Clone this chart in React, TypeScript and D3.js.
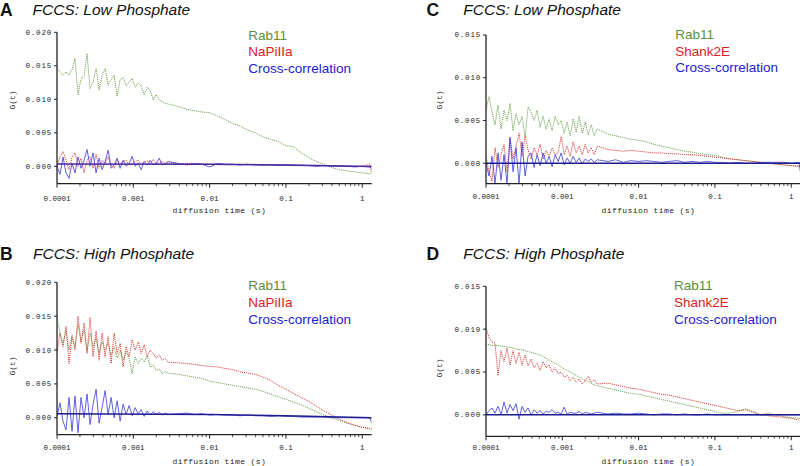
import React from "react";
import * as d3 from "d3";

// diffusion time grid (s)
const TIME = [
  1.0e-4, 1.095e-4, 1.199e-4, 1.313e-4, 1.437e-4, 1.574e-4, 1.723e-4, 1.887e-4, 2.066e-4, 2.262e-4,
  2.477e-4, 2.712e-4, 2.97e-4, 3.252e-4, 3.561e-4, 3.899e-4, 4.269e-4, 4.674e-4, 5.118e-4, 5.604e-4,
  6.136e-4, 6.719e-4, 7.357e-4, 8.056e-4, 8.821e-4, 9.658e-4, 1.058e-3, 1.158e-3, 1.268e-3, 1.388e-3,
  1.52e-3, 1.665e-3, 1.823e-3, 1.996e-3, 2.185e-3, 2.393e-3, 2.62e-3, 2.869e-3,
  3.98e-3, 5.01e-3, 6.31e-3, 7.94e-3, 0.01, 0.0126, 0.0158, 0.02, 0.0251, 0.0316,
  0.0398, 0.0501, 0.0631, 0.0794, 0.1, 0.126, 0.158, 0.2, 0.251, 0.316,
  0.398, 0.501, 0.631, 0.794, 1.0, 1.26, 1.33,
];

const A_RAB11 = [
  0.0146, 0.0141, 0.0136, 0.0141, 0.0136, 0.0144, 0.0161, 0.0107, 0.0131, 0.0134,
  0.0168, 0.0116, 0.0126, 0.0146, 0.0114, 0.0136, 0.0146, 0.0121, 0.0129, 0.0136,
  0.0104, 0.0129, 0.0133, 0.012, 0.0126, 0.0131, 0.0118, 0.0124, 0.012, 0.0107,
  0.0118, 0.0113, 0.0099, 0.0107, 0.0099, 0.0097, 0.0094, 0.0093,
  0.0089, 0.0085, 0.0083, 0.0081, 0.008, 0.0075, 0.007, 0.0064, 0.006, 0.0054,
  0.005, 0.0044, 0.004, 0.0037, 0.0031, 0.0029, 0.002, 0.0013, 0.0007, 0.0003,
  -0.0002, -0.0005, -0.0007, -0.0008, -0.001, -0.0011, -0.001,
];
const A_NAPI = [
  0.0, 0.0014, 0.0022, 0.0009, -0.0005, 0.0014, 0.002, 0.0, 0.0012, -0.001,
  0.0009, 0.0014, -0.0003, 0.0018, -0.0003, 0.0009, 0.0004, 0.0014, 0.0002, -0.0003,
  0.0009, 0.0004, 0.0007, 0.0009, 0.0002, 0.0004, 0.0007, 0.0009, 0.0003, 0.0007,
  0.0008, 0.0004, 0.001, 0.0004, 0.0005, 0.0007, 0.0004, 0.0005,
  0.0004, 0.0004, 0.0004, 0.0004, 0.0003, 0.0004, 0.0003, 0.0003, 0.0003, 0.0003,
  0.0003, 0.0002, 0.0002, 0.0002, 0.0002, 0.0002, 0.0002, 0.0001, 0.0001, 0.0001,
  0.0001, 0.0001, 0.0, 0.0, 0.0, 0.0003, -0.001,
];
const A_CROSS = [
  0.0, -0.0012, 0.0014, -0.001, -0.0018, 0.0004, -0.001, 0.0014, -0.0003, 0.0009,
  0.0025, 0.0, 0.002, -0.001, 0.0012, -0.0005, 0.0007, 0.0024, -0.0003, 0.0002,
  0.0012, -0.0003, 0.0009, 0.0, 0.0004, 0.0015, 0.0, 0.0005, -0.0005, 0.0007,
  0.0002, 0.0009, 0.0002, 0.0004, 0.0012, 0.0002, 0.0004, 0.0007,
  0.0004, 0.0002, 0.0004, 0.0003, -0.0001, 0.0004, 0.0003, 0.0003, 0.0002, 0.0003,
  0.0002, 0.0002, 0.0002, 0.0001, 0.0002, 0.0001, 0.0001, 0.0001, 0.0, 0.0001,
  0.0, 0.0, 0.0, -0.0001, 0.0, -0.0001, -0.0004,
];

const B_RAB11 = [
  0.0149, 0.0125, 0.011, 0.0128, 0.01, 0.0122, 0.0105, 0.0138, 0.0112, 0.013,
  0.0098, 0.0125, 0.0105, 0.0118, 0.0095, 0.0112, 0.01, 0.011, 0.0092, 0.0105,
  0.0088, 0.01, 0.0085, 0.0098, 0.0088, 0.0065, 0.009, 0.008, 0.0088, 0.0082,
  0.0092, 0.0075, 0.0078, 0.007, 0.0072, 0.0065, 0.0068, 0.0066,
  0.0064, 0.0062, 0.006, 0.0058, 0.0054, 0.0052, 0.005, 0.0048, 0.0046, 0.0044,
  0.0042, 0.0039, 0.0035, 0.0031, 0.0027, 0.0023, 0.0019, 0.0014, 0.0009, 0.0004,
  0.0, -0.0004, -0.0008, -0.0011, -0.0014, -0.0016, -0.0017,
];
const B_NAPI = [
  0.0095, 0.0125, 0.0105, 0.0135, 0.008, 0.012, 0.01, 0.015, 0.011, 0.014,
  0.0095, 0.0148, 0.009, 0.0128, 0.0085, 0.0125, 0.009, 0.012, 0.008, 0.0125,
  0.0095, 0.011, 0.0075, 0.0105, 0.009, 0.0115, 0.01, 0.0112, 0.0095, 0.0108,
  0.009, 0.01, 0.0095, 0.0088, 0.0093, 0.0085, 0.0088, 0.0082,
  0.0081, 0.008, 0.0079, 0.0077, 0.0076, 0.0075, 0.0073, 0.0071, 0.0068, 0.0066,
  0.0064, 0.006, 0.0055, 0.0048, 0.0042, 0.0036, 0.003, 0.0024, 0.0017, 0.001,
  0.0004, -0.0002, -0.0007, -0.0011, -0.0014, -0.0016, -0.0017,
];
const B_CROSS = [
  0.0002, 0.0022, -0.0005, -0.0018, 0.003, -0.002, 0.0032, -0.0022, 0.003, 0.0,
  0.0035, -0.001, 0.002, 0.0042, -0.0008, 0.0015, 0.004, 0.0005, 0.003, 0.0,
  0.0025, -0.0005, 0.002, 0.0005, 0.0018, 0.0003, 0.0015, 0.0006, 0.0012, 0.0002,
  0.001, 0.0004, 0.0009, 0.0005, 0.0008, 0.0004, 0.0007, 0.0005,
  0.0006, 0.0007, 0.0005, 0.0006, 0.0004, 0.0005, 0.0004, 0.0004, 0.0003, 0.0004,
  0.0003, 0.0003, 0.0002, 0.0003, 0.0002, 0.0002, 0.0001, 0.0001, 0.0001, 0.0001,
  0.0, 0.0, 0.0, 0.0, 0.0, 0.0, -0.0008,
];

const C_RAB11 = [
  0.0062, 0.0078, 0.006, 0.0045, 0.0068, 0.004, 0.0062, 0.005, 0.007, 0.0038,
  0.0058, 0.0045, 0.0055, 0.003, 0.0066, 0.006, 0.005, 0.0062, 0.0042, 0.0055,
  0.004, 0.0052, 0.0038, 0.0055, 0.0045, 0.005, 0.0035, 0.0048, 0.0032, 0.0052,
  0.0036, 0.0055, 0.0035, 0.0048, 0.0033, 0.0045, 0.0032, 0.004,
  0.0034, 0.0032, 0.003, 0.0028, 0.0027, 0.0025, 0.0022, 0.002, 0.0018, 0.0016,
  0.0014, 0.0013, 0.0011, 0.001, 0.0009, 0.0007, 0.0005, 0.0004, 0.0003, 0.0002,
  0.0001, 0.0, -0.0001, -0.0002, -0.0003, -0.0003, -0.0002,
];
const C_SHANK = [
  0.0008, -0.001, -0.0021, 0.0018, -0.0005, 0.001, 0.0022, -0.001, 0.003, 0.0005,
  0.002, 0.0035, 0.0008, 0.0032, 0.0015, 0.0005, 0.0018, 0.001, 0.0022, 0.0005,
  0.0015, 0.0008, 0.0018, 0.001, 0.0012, 0.0031, 0.001, 0.002, 0.0008, 0.0025,
  0.0012, 0.002, 0.001, 0.0022, 0.0012, 0.0018, 0.001, 0.002,
  0.0016, 0.0015, 0.0014, 0.0015, 0.0014, 0.0013, 0.0012, 0.0012, 0.0011, 0.0011,
  0.001, 0.001, 0.0009, 0.0008, 0.0007, 0.0006, 0.0005, 0.0004, 0.0003, 0.0002,
  0.0001, 0.0, -0.0001, -0.0002, -0.0003, -0.0004, -0.0005,
];
const C_CROSS = [
  0.0, -0.0015, 0.0008, -0.0024, 0.0012, -0.002, 0.001, -0.0024, 0.003, -0.001,
  0.0018, -0.0024, 0.0025, -0.0015, 0.0008, 0.0012, -0.0005, 0.001, -0.0003, 0.0012,
  0.0, 0.0008, -0.0004, 0.001, 0.0002, 0.0012, -0.0002, 0.0006, 0.0, 0.0008,
  0.0001, 0.0006, -0.0001, 0.0005, 0.0002, 0.0005, 0.0001, 0.0004,
  0.0002, 0.0004, 0.0001, 0.0003, 0.0002, 0.0003, 0.0002, 0.0001, 0.0002, 0.0003,
  0.0001, 0.0002, 0.0001, 0.0002, 0.0001, 0.0001, 0.0, 0.0001, 0.0, 0.0,
  0.0001, 0.0001, 0.0001, 0.0001, 0.0, 0.0001, -0.0012,
];

const D_RAB11 = [
  0.0082, 0.0082, 0.0081, 0.0081, 0.0081, 0.008, 0.008, 0.0079, 0.0079, 0.0078,
  0.0077, 0.0076, 0.0076, 0.0075, 0.0074, 0.0073, 0.0072, 0.0071, 0.007, 0.0068,
  0.0066, 0.0064, 0.0062, 0.006, 0.0058, 0.0056, 0.0054, 0.0052, 0.005, 0.0048,
  0.0046, 0.0044, 0.0042, 0.004, 0.0039, 0.0037, 0.0035, 0.0034,
  0.0031, 0.0029, 0.0027, 0.0025, 0.0024, 0.0022, 0.002, 0.0018, 0.0016, 0.0014,
  0.0012, 0.001, 0.0008, 0.0006, 0.0004, 0.0002, 0.0002, 0.0004, 0.0007, 0.0004,
  0.0, 0.0002, 0.0, -0.0002, -0.0003, -0.0004, -0.0004,
];
const D_SHANK = [
  0.0102, 0.009, 0.0085, 0.0084, 0.0046, 0.0075, 0.0062, 0.0078, 0.0058, 0.0075,
  0.006, 0.0073, 0.0058, 0.007, 0.0057, 0.0065, 0.0055, 0.006, 0.0052, 0.0062,
  0.0055, 0.0058, 0.005, 0.0055, 0.0048, 0.005, 0.0044, 0.0046, 0.004, 0.0044,
  0.0038, 0.0042, 0.0036, 0.004, 0.0045, 0.0038, 0.0041, 0.0036,
  0.0037, 0.0035, 0.0033, 0.0031, 0.003, 0.0028, 0.0026, 0.0024, 0.0023, 0.0021,
  0.0019, 0.0017, 0.0015, 0.0013, 0.0011, 0.0009, 0.0007, 0.0005, 0.0006, 0.0003,
  0.0, -0.0001, -0.0002, -0.0003, -0.0004, -0.0006, -0.0007,
];
const D_CROSS = [
  0.0, 0.0005, 0.0008, 0.0002, 0.001, 0.0, 0.0015, 0.0002, 0.0012, 0.0005,
  0.0013, -0.0005, 0.001, 0.0003, 0.0008, 0.0, 0.0006, 0.0002, 0.0005, 0.0001,
  0.0004, 0.0003, 0.0006, 0.0002, 0.0003, 0.0001, 0.0009, 0.0001, 0.0003, 0.0002,
  0.0002, 0.0004, 0.0001, 0.0003, 0.0002, 0.0001, 0.0002, 0.0003,
  0.0001, 0.0002, 0.0001, 0.0001, 0.0002, 0.0001, 0.0, 0.0001, 0.0001, 0.0,
  0.0001, 0.0, 0.0, 0.0001, 0.0, 0.0, 0.0, 0.0, 0.0, 0.0,
  0.0, 0.0, 0.0, 0.0, 0.0, 0.0, 0.0,
];

// cross-correlation baseline fits
const FIT_TIME = [0.0001, 0.01, 0.1, 1.33];
const A_FIT = [0.00035, 0.0003, 0.0002, -0.00005];
const B_FIT = [0.0006, 0.0005, 0.0003, 0.0];
const C_FIT = [0.0, 0.0, 0.0, 0.0];
const D_FIT = [0.0, 0.0, 0.0, 0.0];

const X_DOMAIN = [0.0001, 1.33];
const X_TICKS = [0.0001, 0.001, 0.01, 0.1, 1];
const X_TICK_LABELS = ["0.0001", "0.001", "0.01", "0.1", "1"];
const Y_TICKS_20 = [0, 0.005, 0.01, 0.015, 0.02];
const Y_TICKS_15 = [0, 0.005, 0.01, 0.015];
const LEGEND_NAPI = ["Rab11", "NaPiIIa", "Cross-correlation"];
const LEGEND_SHANK = ["Rab11", "Shank2E", "Cross-correlation"];
const PANEL_LETTERS = ["A", "B", "C", "D"];
const PANEL_TITLES = ["FCCS: Low Phosphate", "FCCS: High Phosphate", "FCCS: Low Phosphate", "FCCS: High Phosphate"];

const GREEN = "#5f9a3c";
const RED = "#d82a28";
const BLUE = "#3838dc";
const LEG_COLORS = ["#5a8f38", "#dc2020", "#2020d0"];
const SANS = "'Liberation Sans', Arial, sans-serif";
const MONO = "'Liberation Mono', 'Courier New', monospace";

const PANELS = [
  { id: "A", x0: 57, yDomain: [-0.0026, 0.02], yRange: [183.7, 32.3], yTicks: Y_TICKS_20, series: [A_RAB11, A_NAPI, A_CROSS], fit: A_FIT, fitColor: "#4a2aa0", legend: LEGEND_NAPI, letterX: 0, titleX: 32.5, titleY: 15, legX: 248.3, legY: 39.5, gx: 12, gy: 100, tickY: 200.7, xTitleY: 212.5 },
  { id: "B", x0: 57, yDomain: [-0.0025, 0.02], yRange: [434.7, 282.3], yTicks: Y_TICKS_20, series: [B_RAB11, B_NAPI, B_CROSS], fit: B_FIT, fitColor: "#1e1e90", legend: LEGEND_NAPI, letterX: 0, titleX: 33, titleY: 258.7, legX: 248.3, legY: 290.3, gx: 12, gy: 366, tickY: 449.7, xTitleY: 463.5 },
  { id: "C", x0: 486, yDomain: [-0.0024, 0.015], yRange: [183.7, 35], yTicks: Y_TICKS_15, series: [C_RAB11, C_SHANK, C_CROSS], fit: C_FIT, fitColor: "#1e1e90", legend: LEGEND_SHANK, letterX: 426.5, titleX: 463.3, titleY: 15, legX: 675.3, legY: 39, gx: 439.3, gy: 100, tickY: 198.5, xTitleY: 213 },
  { id: "D", x0: 486, yDomain: [-0.0025, 0.015], yRange: [436.3, 286.3], yTicks: Y_TICKS_15, series: [D_RAB11, D_SHANK, D_CROSS], fit: D_FIT, fitColor: "#1e1e90", legend: LEGEND_SHANK, letterX: 426.5, titleX: 463.3, titleY: 259, legX: 674, legY: 290.3, gx: 439, gy: 368, tickY: 450, xTitleY: 463.5 },
];
const PLOT_W = 314.7;

function Panel({ p, idx }: { p: any; idx: number }) {
  const x = d3.scaleLog().domain(X_DOMAIN).range([p.x0, p.x0 + PLOT_W]);
  const y = d3.scaleLinear().domain(p.yDomain).range(p.yRange);
  const [yb, yt] = p.yRange;
  const x1 = p.x0 + PLOT_W;
  const line = d3
    .line<number>()
    .x((_, i) => x(TIME[i]))
    .y((d) => y(d));
  const fitLine = d3
    .line<number>()
    .x((_, i) => x(FIT_TIME[i]))
    .y((d) => y(d));
  const majors = new Set(X_TICKS.map((t) => t.toPrecision(3)));
  const minor = x.ticks().filter((t) => !majors.has(t.toPrecision(3)));
  const clipId = `clip-${p.id}`;
  const fmt = d3.format(".3f");
  return (
    <g>
      <defs>
        <clipPath id={clipId}>
          <rect x={p.x0} y={yt - 12} width={PLOT_W} height={yb - yt + 12} />
        </clipPath>
      </defs>
      <text x={p.letterX} y={p.titleY + 1} fontFamily={SANS} fontWeight="bold" fontSize={17.5} fill="#111">
        {PANEL_LETTERS[idx]}
      </text>
      <text x={p.titleX} y={p.titleY} fontFamily={SANS} fontStyle="italic" fontSize={15.5} fill="#111">
        {PANEL_TITLES[idx]}
      </text>
      <g clipPath={`url(#${clipId})`}>
        <path d={line(p.series[0]) || ""} fill="none" stroke={GREEN} strokeWidth={1} strokeDasharray="1 1" />
        <path d={line(p.series[1]) || ""} fill="none" stroke={RED} strokeWidth={1} strokeDasharray="1 1" />
        <path d={line(p.series[2]) || ""} fill="none" stroke={BLUE} strokeWidth={0.8} />
        <path d={fitLine(p.fit) || ""} fill="none" stroke={p.fitColor} strokeWidth={1.5} />
      </g>
      {/* axes */}
      <line x1={p.x0} x2={p.x0} y1={yt} y2={yb} stroke="#222" strokeWidth={1.3} />
      <line x1={p.x0} x2={x1} y1={yb} y2={yb} stroke="#222" strokeWidth={1.3} />
      {p.yTicks.map((t: number) => (
        <g key={"y" + t}>
          <line x1={p.x0 - 3} x2={p.x0} y1={y(t)} y2={y(t)} stroke="#222" strokeWidth={1} />
          <text x={p.x0 - 5} y={y(t)} dy="0.33em" textAnchor="end" fontFamily={MONO} fontSize={7.5} letterSpacing={0.8} fill="#222">
            {fmt(t)}
          </text>
        </g>
      ))}
      {X_TICKS.map((t, i) => (
        <g key={"x" + t}>
          <line x1={x(t)} x2={x(t)} y1={yb} y2={yb + 4} stroke="#222" strokeWidth={1} />
          <text x={x(t)} y={p.tickY} textAnchor="middle" fontFamily={MONO} fontSize={7.5} fill="#222">
            {X_TICK_LABELS[i]}
          </text>
        </g>
      ))}
      {minor.map((t) => (
        <line key={"m" + t} x1={x(t)} x2={x(t)} y1={yb} y2={yb + 2.5} stroke="#222" strokeWidth={0.8} />
      ))}
      <text x={(p.x0 + x1) / 2 + 5} y={p.xTitleY} textAnchor="middle" fontFamily={MONO} fontSize={8} letterSpacing={0.4} fill="#222">
        diffusion time (s)
      </text>
      <text
        transform={`translate(${p.gx},${p.gy}) rotate(-90)`}
        textAnchor="middle"
        dy="0.33em"
        fontFamily={MONO}
        fontSize={8}
        fill="#222"
      >
        G(t)
      </text>
      {p.legend.map((s: string, i: number) => (
        <text key={s} x={p.legX} y={p.legY + i * 16.6} fontFamily={SANS} fontSize={13.5} fill={LEG_COLORS[i]}>
          {s}
        </text>
      ))}
    </g>
  );
}

export default function App() {
  return (
    <svg
      width={800}
      height={466}
      viewBox="0 0 800 466"
      style={{ position: "absolute", left: 0, top: 0, background: "#fff" }}
    >
      <rect x={0} y={0} width={800} height={466} fill="#fff" />
      {PANELS.map((p, i) => (
        <Panel key={p.id} p={p} idx={i} />
      ))}
    </svg>
  );
}
